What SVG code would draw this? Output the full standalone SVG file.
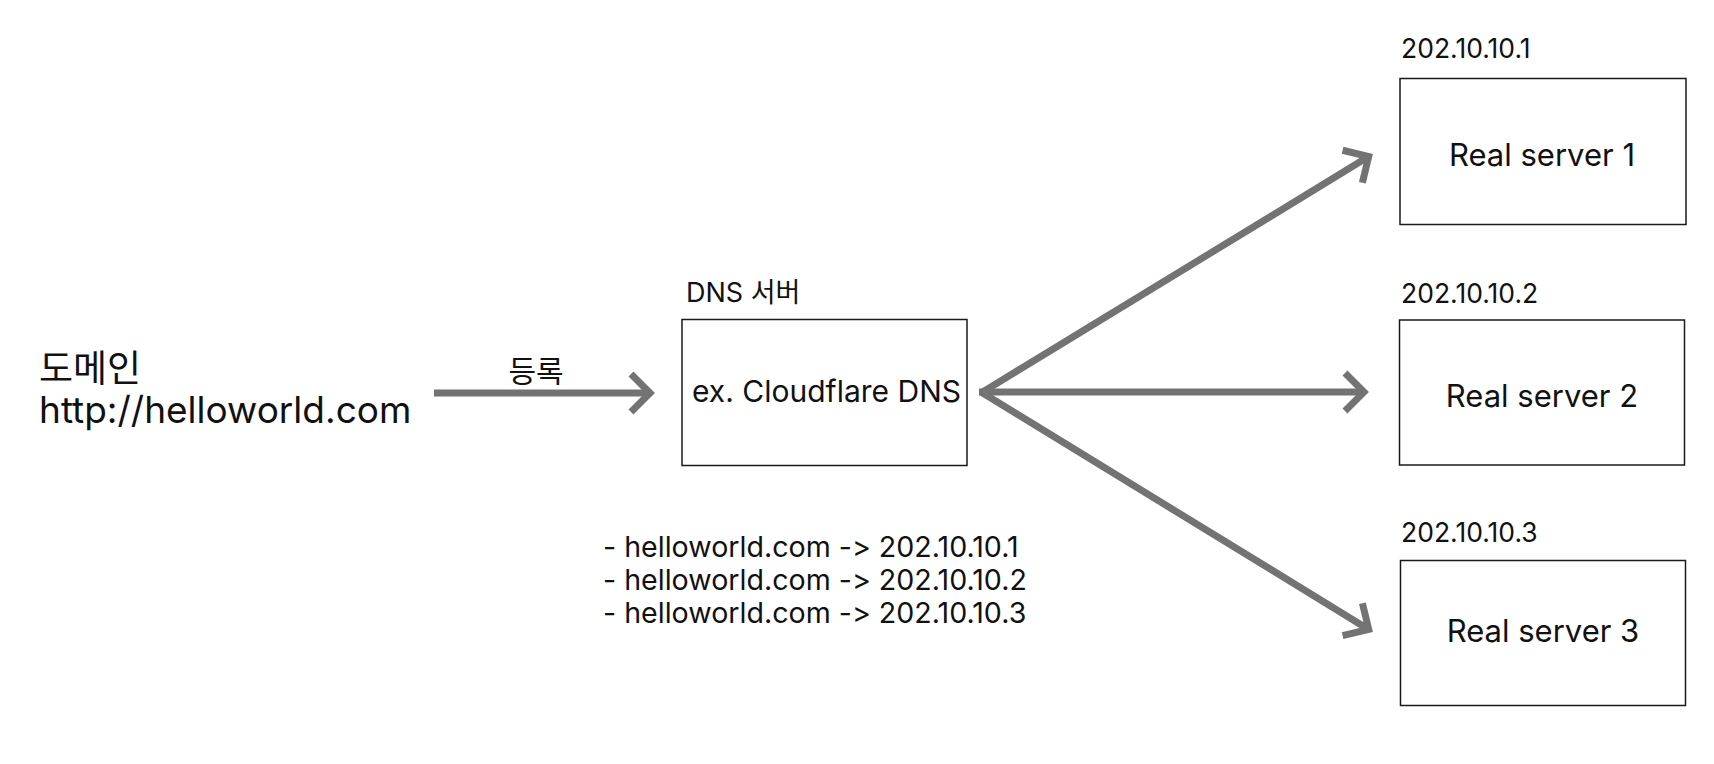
<svg xmlns="http://www.w3.org/2000/svg" width="1714" height="764" viewBox="0 0 1714 764">
<style>
text{font-family:Inter,"Noto Sans CJK KR",sans-serif;fill:#111;font-feature-settings:"calt" 0,"liga" 0;font-variant-ligatures:none}
.box{fill:#fff;stroke:#1a1a1a;stroke-width:1.5}
.arr{fill:none;stroke:#737373;stroke-width:7;marker-end:url(#ah)}
.big{font-size:37px}
.mid{font-size:31px}
.ip{font-size:26.5px}
.lst{font-size:28.6px}
</style>
<defs>
<marker id="ah" markerUnits="userSpaceOnUse" viewBox="-30 -30 40 60" refX="0" refY="0" markerWidth="40" markerHeight="60" orient="auto" overflow="visible">
<path d="M-19,-19 L0,0 L-19,19" fill="none" stroke="#737373" stroke-width="7" stroke-linejoin="miter"/>
</marker>
</defs>
<rect width="1714" height="764" fill="#fff"/>
<g id="domain">
<text class="big" x="39" y="382">도메인</text>
<text class="big" x="39" y="423">http://helloworld.com</text>
</g>
<g id="dns">
<text x="686" y="302" style="font-size:27px">DNS 서버</text>
<rect class="box" x="682" y="319.5" width="285" height="146"/>
<text x="692" y="402" style="font-size:30px">ex. Cloudflare DNS</text>
</g>
<g id="records">
<text class="lst" x="603" y="557">- helloworld.com -&gt; 202.10.10.1</text>
<text class="lst" x="603" y="590">- helloworld.com -&gt; 202.10.10.2</text>
<text class="lst" x="603" y="623">- helloworld.com -&gt; 202.10.10.3</text>
</g>
<g id="server1">
<text class="ip" x="1401" y="58">202.10.10.1</text>
<rect class="box" x="1400" y="78.5" width="286" height="146"/>
<text class="mid" x="1542" y="166" text-anchor="middle">Real server 1</text>
</g>
<g id="server2">
<text class="ip" x="1401" y="303">202.10.10.2</text>
<rect class="box" x="1399.5" y="320" width="285" height="145"/>
<text class="mid" x="1542" y="407" text-anchor="middle">Real server 2</text>
</g>
<g id="server3">
<text class="ip" x="1401" y="542">202.10.10.3</text>
<rect class="box" x="1400.5" y="560.5" width="285" height="145"/>
<text class="mid" x="1543" y="642" text-anchor="middle">Real server 3</text>
</g>
<g id="connectors">
<text x="536" y="382" text-anchor="middle" style="font-size:30px">등록</text>
<line class="arr" x1="434" y1="393" x2="650" y2="393"/>
<line class="arr" x1="979" y1="392" x2="1364" y2="392"/>
<line class="arr" x1="981" y1="393" x2="1368.7" y2="156.6"/>
<line class="arr" x1="981" y1="392" x2="1368.7" y2="629.4"/>
</g>
</svg>
